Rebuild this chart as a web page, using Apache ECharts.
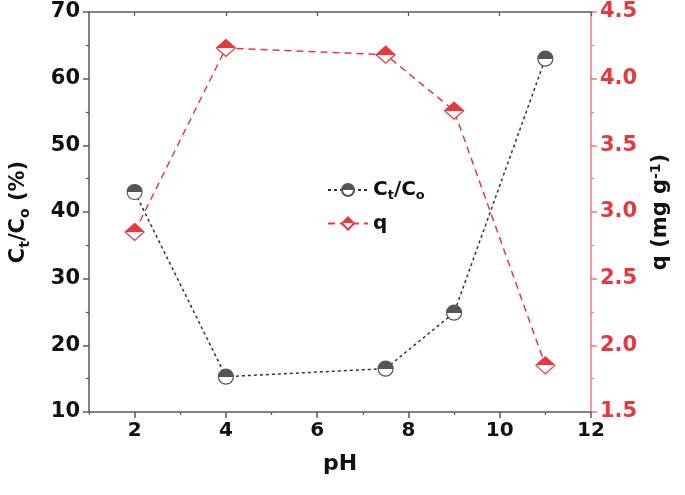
<!DOCTYPE html>
<html>
<head>
<meta charset="utf-8">
<script src="https://cdn.jsdelivr.net/npm/echarts@6/dist/echarts.min.js"></script>
<style>
  html, body { margin: 0; padding: 0; background: #fff; }
  #chart { width: 685px; height: 495px; }
</style>
</head>
<body>
<div id="chart"></div>
<script>
// pH values and the two measured series
var phValues = [2, 4, 7.5, 9, 11];
var ctCoValues = [43, 15.3, 16.5, 24.9, 63];
var qValues = [2.85, 4.23, 4.18, 3.76, 1.85];
var xMajorTicks = [2, 4, 6, 8, 10, 12];
var xMinorTicks = [1, 3, 5, 7, 9, 11];

var fontFam = '"DejaVu Sans", "Liberation Sans", sans-serif';
var redCol = '#e8383d';
var greyAxis = '#5a5a5a';

function pairs(xs, ys) {
	var out = [];
	for (var i = 0; i < xs.length; i++) out.push([xs[i], ys[i]]);
	return out;
}

function halfFill(top) {
	return {
		type: 'linear', x: 0, y: 0, x2: 0, y2: 1,
		colorStops: [
			{ offset: 0, color: top }, { offset: 0.5, color: top },
			{ offset: 0.5, color: '#fff' }, { offset: 1, color: '#fff' }
		]
	};
}

var chart = echarts.init(document.getElementById('chart'));

var option = {
	animation: false,
	textStyle: { fontFamily: fontFam },
	grid: { left: 89, right: 94, top: 12, bottom: 83 },
	legend: {
		orient: 'vertical',
		left: 322,
		top: 175,
		itemWidth: 40,
		itemHeight: 15,
		itemGap: 11,
		data: ['ct', 'q'],
		formatter: function (name) {
			if (name === 'ct') return '{b|C}{s|t}{b|/C}{s|o}';
			return '{b|q}';
		},
		textStyle: {
			fontFamily: fontFam,
			rich: {
				b: { fontSize: 20, fontWeight: 'bold', color: '#111', fontFamily: fontFam },
				s: { fontSize: 13, fontWeight: 'bold', color: '#111', fontFamily: fontFam, padding: [12, 0, 0, 0] }
			}
		}
	},
	xAxis: [
		{
			type: 'value', min: 1, max: 12, position: 'bottom',
			name: 'pH', nameLocation: 'middle', nameGap: 41,
			nameTextStyle: { fontSize: 22, fontWeight: 'bold', color: '#111', fontFamily: fontFam },
			axisLine: { lineStyle: { color: greyAxis, width: 1.5 } },
			axisTick: { customValues: xMajorTicks, length: 6, lineStyle: { color: greyAxis, width: 1.5 } },
			axisLabel: { customValues: xMajorTicks, fontSize: 20, fontWeight: 'bold', color: '#111', margin: 9, fontFamily: fontFam },
			splitLine: { show: false }
		},
		{
			type: 'value', min: 1, max: 12, position: 'bottom',
			axisLine: { show: false },
			axisTick: { customValues: xMinorTicks, length: 3, lineStyle: { color: greyAxis, width: 1.2 } },
			axisLabel: { show: false },
			splitLine: { show: false }
		},
		{
			type: 'value', min: 1, max: 12, position: 'top',
			axisLine: { lineStyle: { color: greyAxis, width: 1.5 } },
			axisTick: { inside: true, customValues: xMajorTicks, length: 4, lineStyle: { color: greyAxis, width: 1.2 } },
			axisLabel: { show: false },
			splitLine: { show: false }
		}
	],
	yAxis: [
		{
			type: 'value', min: 10, max: 70, interval: 10, position: 'left',
			name: '{b|C}{s|t}{b|/C}{s|o}{b| (%)}', nameLocation: 'middle', nameGap: 57, nameRotate: 90,
			nameTextStyle: {
				fontFamily: fontFam,
				rich: {
					b: { fontSize: 21, fontWeight: 'bold', color: '#111', fontFamily: fontFam },
					s: { fontSize: 14, fontWeight: 'bold', color: '#111', fontFamily: fontFam, padding: [12, 0, 0, 0] }
				}
			},
			axisLine: { show: true, lineStyle: { color: greyAxis, width: 1.5 } },
			axisTick: { show: true, length: 6, lineStyle: { color: greyAxis, width: 1.5 } },
			minorTick: { show: true, splitNumber: 2, length: 3, lineStyle: { color: greyAxis, width: 1.2 } },
			axisLabel: { fontSize: 21, fontWeight: 'bold', color: '#111', margin: 9, fontFamily: fontFam },
			splitLine: { show: false },
			minorSplitLine: { show: false }
		},
		{
			type: 'value', min: 1.5, max: 4.5, interval: 0.5, position: 'right',
			name: '{b|q (mg g}{u|-1}{b|)}', nameLocation: 'middle', nameGap: 58, nameRotate: 90,
			nameTextStyle: {
				fontFamily: fontFam,
				rich: {
					b: { fontSize: 21, fontWeight: 'bold', color: '#111', fontFamily: fontFam },
					u: { fontSize: 14, fontWeight: 'bold', color: '#111', fontFamily: fontFam, padding: [0, 0, 10, 0] }
				}
			},
			axisLine: { show: true, lineStyle: { color: '#f07a7d', width: 1.5 } },
			axisTick: { show: true, length: 6, lineStyle: { color: '#f07a7d', width: 1.5 } },
			minorTick: { show: true, splitNumber: 2, length: 3, lineStyle: { color: '#f07a7d', width: 1.2 } },
			axisLabel: {
				fontSize: 21, fontWeight: 'bold', color: redCol, margin: 9, fontFamily: fontFam,
				formatter: function (v) { return v.toFixed(1); }
			},
			splitLine: { show: false },
			minorSplitLine: { show: false }
		}
	],
	series: [
		{
			name: 'ct',
			type: 'line',
			xAxisIndex: 0,
			yAxisIndex: 0,
			data: pairs(phValues, ctCoValues),
			symbol: 'circle',
			symbolSize: 15,
			lineStyle: { color: '#333', width: 1.5, type: [3, 3] },
			itemStyle: { color: halfFill('#555'), borderColor: '#555', borderWidth: 1.2 },
			z: 3
		},
		{
			name: 'q',
			type: 'line',
			xAxisIndex: 0,
			yAxisIndex: 1,
			data: pairs(phValues, qValues),
			symbol: 'diamond',
			symbolSize: [19, 17],
			lineStyle: { color: redCol, width: 1.5, type: [7, 5] },
			itemStyle: { color: halfFill(redCol), borderColor: redCol, borderWidth: 1.2 },
			z: 2
		}
	]
};

chart.setOption(option);
</script>
</body>
</html>
